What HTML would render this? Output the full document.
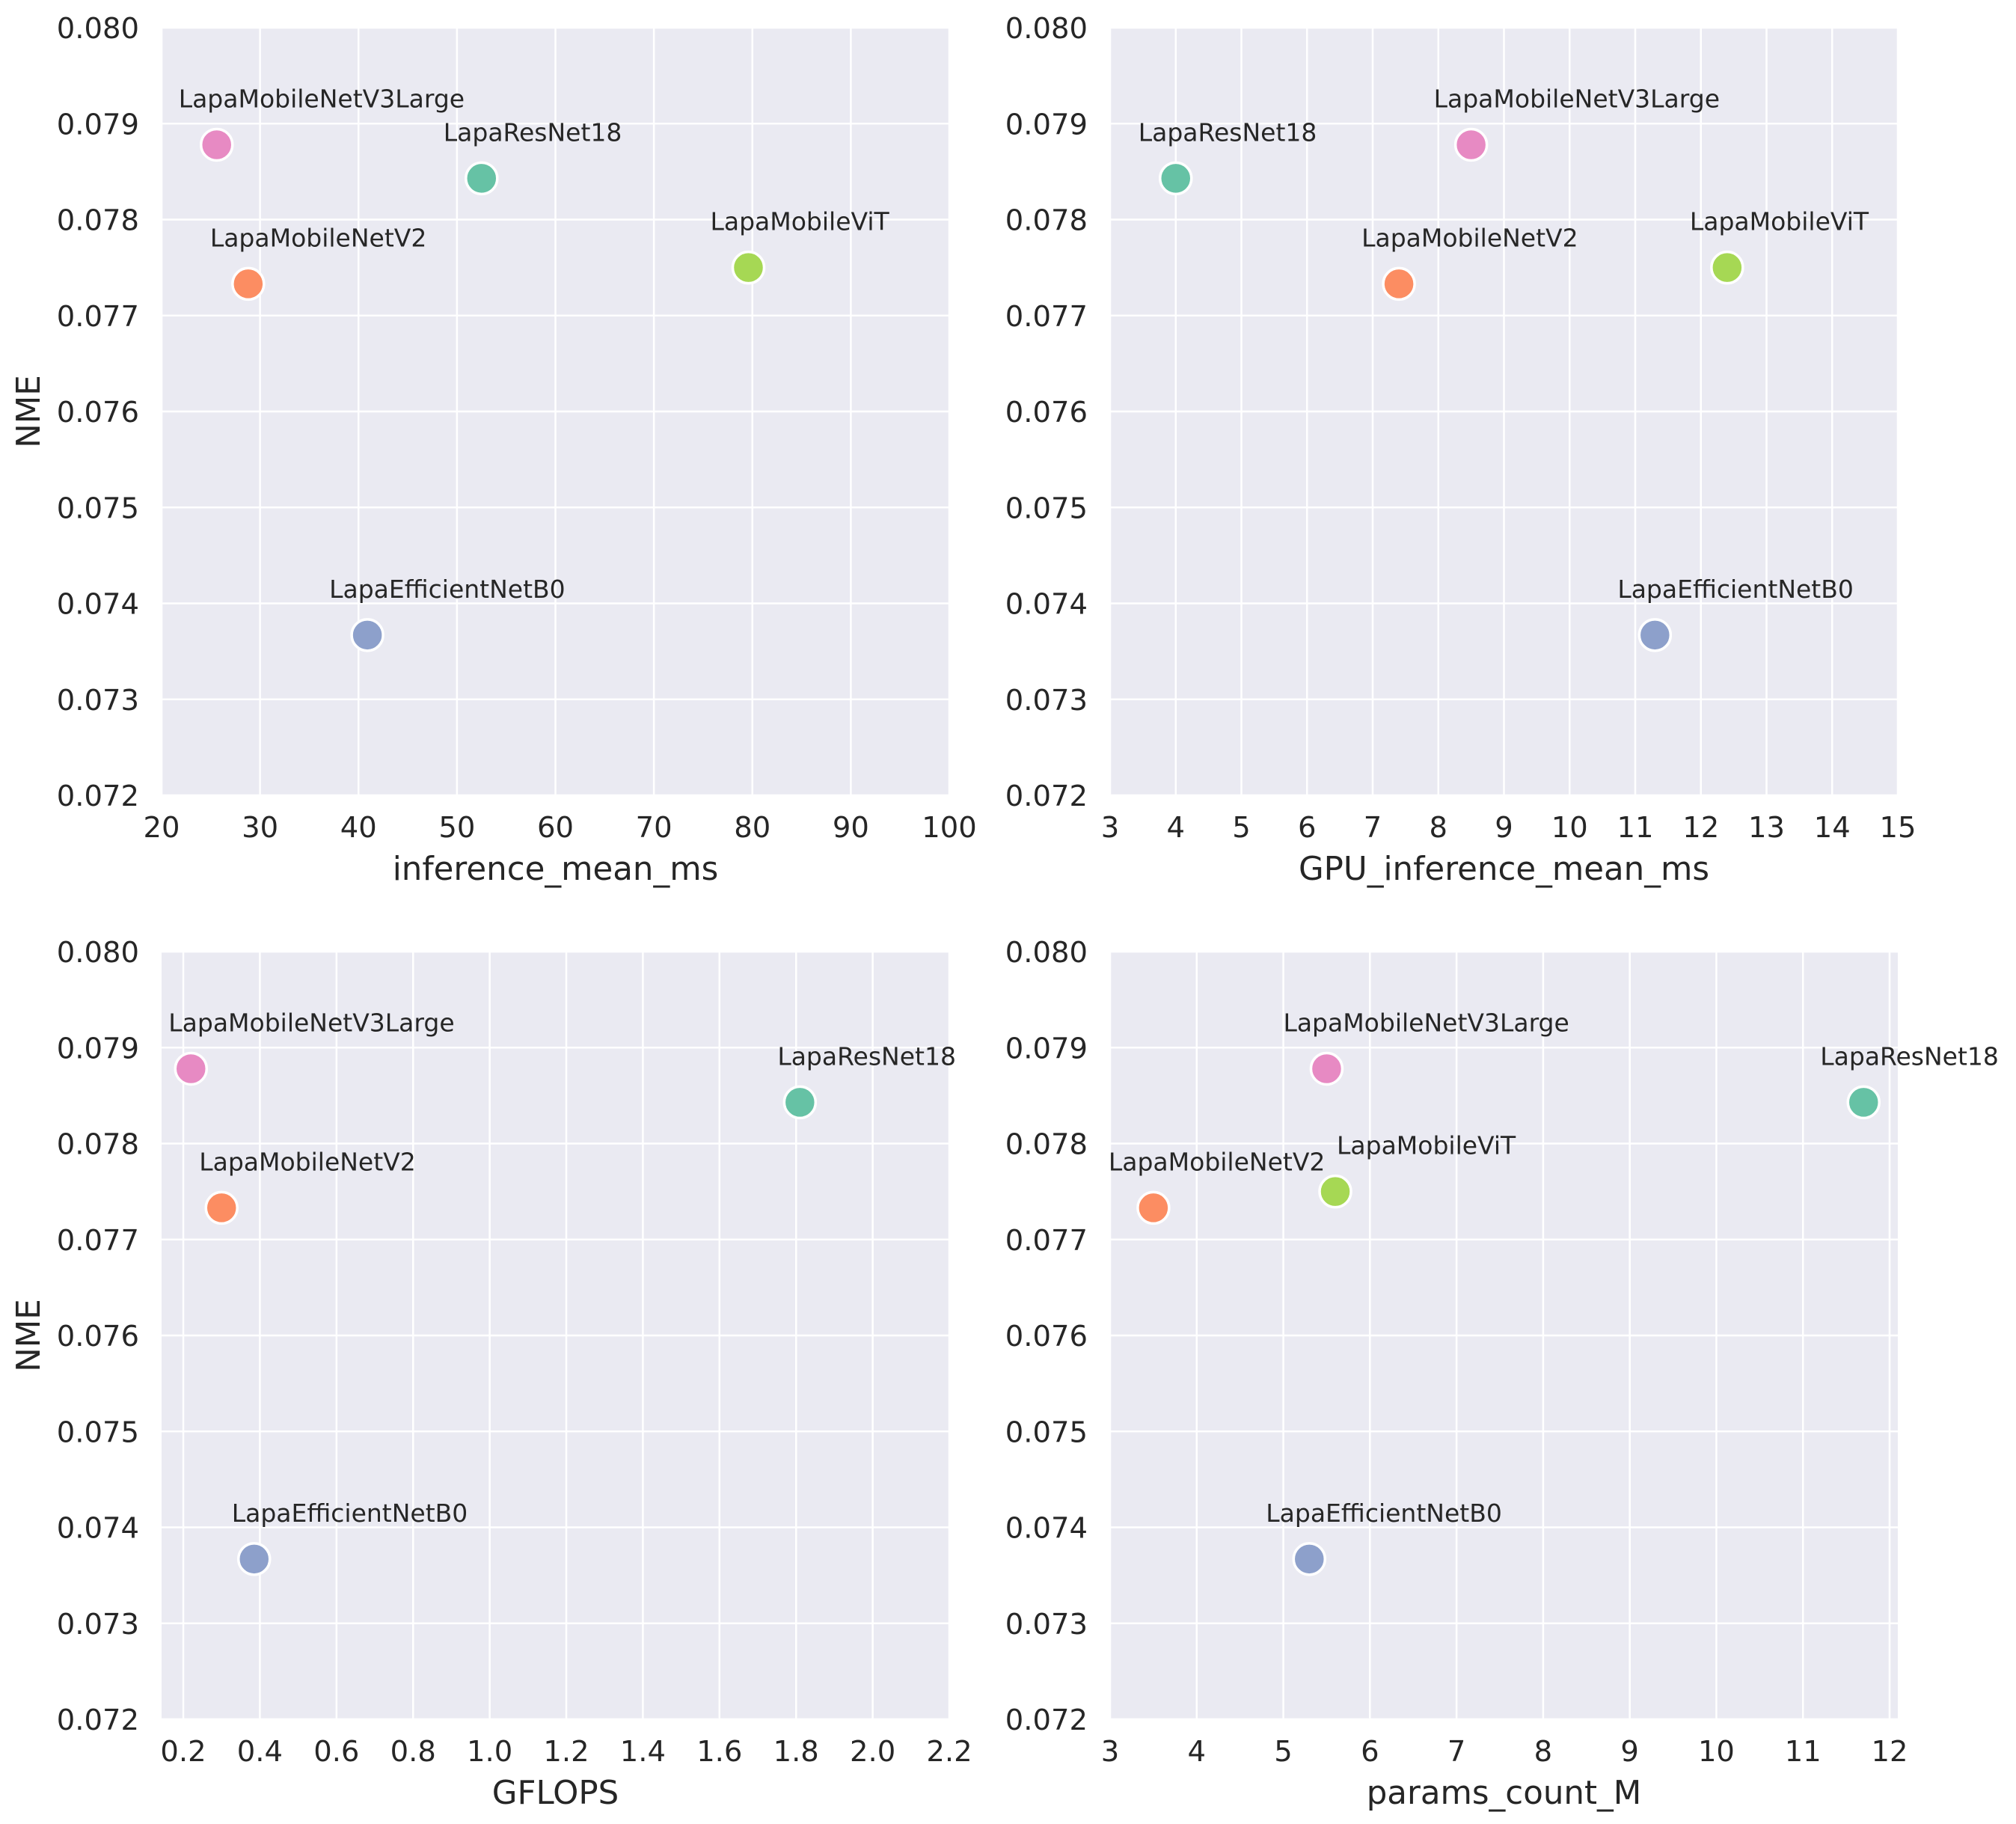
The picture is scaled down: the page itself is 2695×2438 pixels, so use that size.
<!DOCTYPE html>
<html><head><meta charset="utf-8"><style>
html,body{margin:0;padding:0;background:#fff}
svg{display:block}
text{font-family:"DejaVu Sans","Liberation Sans",sans-serif;fill:#262626}
</style></head><body>
<svg id="chart" width="2695" height="2438" viewBox="0 0 2695 2438" xmlns="http://www.w3.org/2000/svg"></svg>
<script>
const models = ["LapaMobileNetV3Large","LapaResNet18","LapaMobileViT","LapaMobileNetV2","LapaEfficientNetB0"];
const colors = ["#e78ac3","#66c2a5","#a6d854","#fc8d62","#8da0cb"];
const nme = [0.07878,0.07843,0.07750,0.07733,0.07367];
const inferenceMs = [25.6,52.5,79.6,28.8,40.9];
const gpuInferenceMs = [8.5,4.0,12.4,7.4,11.3];
const gflops = [0.22,1.81,6.0,0.30,0.385];
const paramsM = [5.5,11.7,5.6,3.5,5.3];
const yTicks = [0.072,0.073,0.074,0.075,0.076,0.077,0.078,0.079,0.080];
const xTicks1 = [20,30,40,50,60,70,80,90,100];
const xTicks2 = [3,4,5,6,7,8,9,10,11,12,13,14,15];
const xTicks3 = [0.2,0.4,0.6,0.8,1.0,1.2,1.4,1.6,1.8,2.0,2.2];
const xTicks4 = [3,4,5,6,7,8,9,10,11,12];

const NS="http://www.w3.org/2000/svg";
const svg=document.getElementById('chart');
function el(tag,attrs,parent){const e=document.createElementNS(NS,tag);for(const k in attrs)e.setAttribute(k,attrs[k]);(parent||svg).appendChild(e);return e;}

const panels=[
 {name:'inference',x0:216,y0:37,xs:inferenceMs,xmin:20,xmax:100,ticks:xTicks1,fmt:v=>String(v),xlabel:'inference_mean_ms',ylab:true,lo:[-51,-51,-51,-51,-51]},
 {name:'gpu-inference',x0:1484,y0:37,xs:gpuInferenceMs,xmin:3,xmax:15,ticks:xTicks2,fmt:v=>String(v),xlabel:'GPU_inference_mean_ms',ylab:false,lo:[-50,-50,-50,-50,-50]},
 {name:'gflops',x0:216,y0:1272,xs:gflops,xmin:0.1433,xmax:2.2,ticks:xTicks3,fmt:v=>v.toFixed(1),xlabel:'GFLOPS',ylab:true,lo:[-30,-30,-30,-30,-30]},
 {name:'params',x0:1484,y0:1272,xs:paramsM,xmin:3,xmax:12.095,ticks:xTicks4,fmt:v=>String(v),xlabel:'params_count_M',ylab:false,lo:[-58,-58,2,-60,-58]}
];
const W=1053,H=1026,ymin=0.072,ymax=0.080;
const fg=el('g',{});



panels.forEach(p=>{
  const g=el('g',{});
  svg.insertBefore(g,fg);
  
  
  const X=v=>p.x0+(v-p.xmin)/(p.xmax-p.xmin)*W;
  const Y=v=>p.y0+H-(v-ymin)/(ymax-ymin)*H;
  const bg=el('rect',{x:p.x0,y:p.y0,width:W,height:H,fill:'#eaeaf2'},g);
  
  
  yTicks.forEach(t=>{
    const y=Y(t);
    const ln=el('line',{x1:p.x0,x2:p.x0+W,y1:y,y2:y,stroke:'#fff','stroke-width':2.5},g);
    
    
    const tx=el('text',{x:p.x0-30,y:y+14,'font-size':38.5,'text-anchor':'end'},g);
    tx.textContent=t.toFixed(3);
    
    
  });
  p.ticks.forEach(t=>{
    const x=X(t);
    const ln=el('line',{x1:x,x2:x,y1:p.y0,y2:p.y0+H,stroke:'#fff','stroke-width':2.5},g);
    
    
    const tx=el('text',{x:x,y:p.y0+H+56,'font-size':38.5,'text-anchor':'middle'},g);
    tx.textContent=p.fmt(t);
    
    
  });
  const xl=el('text',{x:p.x0+W/2,y:p.y0+H+113,'font-size':43.5,'text-anchor':'middle'},g);
  xl.textContent=p.xlabel;
  
  
  if(p.ylab){
    const yl=el('text',{x:0,y:0,'font-size':43.5,'text-anchor':'middle',transform:`translate(53,${p.y0+H/2}) rotate(-90)`},g);
    yl.textContent='NME';
    
    
  }
  models.forEach((m,i)=>{
    const cx=X(p.xs[i]),cy=Y(nme[i]);
    if(cx>2695) return;
    const c=el('circle',{cx:cx,cy:cy,r:21,fill:colors[i],stroke:'#fff','stroke-width':3.5},fg);
    
    
    const lb=el('text',{x:cx+p.lo[i],y:cy-50,'font-size':33},fg);
    lb.textContent=m;
    
    
  });
});
</script>
</body></html>
